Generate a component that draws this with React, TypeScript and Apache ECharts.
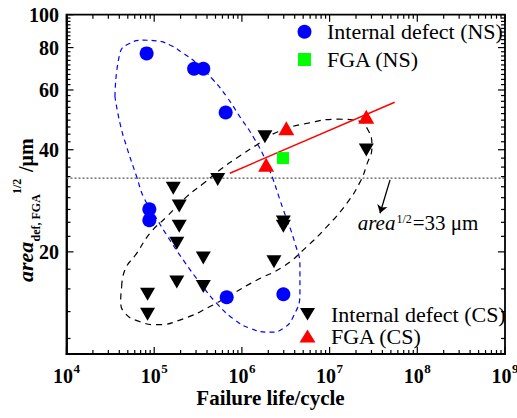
import React, { useEffect, useRef } from 'react';
import * as echarts from 'echarts';

const FONT = "'Liberation Serif', 'Times New Roman', serif";

const X_MIN = 1e4;
const X_MAX = 1e9;
const Y_MIN = 10;
const Y_MAX = 100;

const xTickExponents = [4, 5, 6, 7, 8, 9];
const yTickLabels = [20, 40, 60, 80, 100];
const yMinorPerMajor = 9; // Origin-style minor ticks: major step 20 split into 9

const NS_DEFECT = 'Internal defect (NS)';
const NS_FGA = 'FGA (NS)';
const CS_DEFECT = 'Internal defect (CS)';
const CS_FGA = 'FGA (CS)';

const BLUE = '#0000ff';
const GREEN = '#00ff00';
const RED = '#ff0000';
const BLACK = '#000000';

// [failure life (cycles), sqrt(area) (um)]
const nsDefect = [
  [8.2e4, 76.9], [2.85e5, 69.3], [3.63e5, 69.3], [6.53e5, 51.5],
  [8.8e4, 26.7], [8.8e4, 24.8], [6.71e5, 14.7], [2.97e6, 15.0],
];
const nsFGA = [[2.94e6, 37.8]];
const csDefect = [
  [8.4e4, 15.0], [8.4e4, 13.1], [1.65e5, 30.8], [1.93e5, 27.3], [1.93e5, 23.8],
  [1.81e5, 21.2], [1.81e5, 16.3], [3.63e5, 19.2], [3.63e5, 15.8], [5.3e5, 32.7],
  [1.83e6, 43.7], [2.32e6, 18.7], [2.97e6, 24.5], [2.97e6, 23.8], [2.62e7, 39.9],
];
const csFGA = [[3.21e6, 46.3], [2.62e7, 50.0], [1.89e6, 36.1]];
const fgaFitLine = [[7.3e5, 34.1], [5.52e7, 55.2]];
const thresholdArea = 33;
const arrowFrom = [4.89e7, 32.6];
const arrowTo = [3.76e7, 26.0];

// hand-drawn guide outlines (in data space)
const blueOutline = [
  [3.57e4, 57.3], [4.07e4, 77.1], [5.3e4, 82.4], [7.52e4, 84.1], [1.07e5, 83.7],
  [1.51e5, 81.4], [2.15e5, 76.9], [3.05e5, 71.9], [4.72e5, 64.2], [6.71e5, 57.3],
  [9.51e5, 50.0], [1.35e6, 43.6], [1.92e6, 36.5], [2.97e6, 26.6], [4.03e6, 21.2],
  [4.59e6, 18.1], [4.59e6, 15.1], [3.86e6, 12.9], [2.97e6, 11.9], [2.09e6, 11.6],
  [1.24e6, 11.9], [7.98e5, 12.7], [5.16e5, 14.1], [3.33e5, 16.2], [2.15e5, 18.9],
  [1.39e5, 22.4], [9.78e4, 26.0], [7.52e4, 29.1], [6.31e4, 33.3], [4.85e4, 40.8],
  [4.07e4, 47.9], [3.57e4, 57.3],
];
const blackOutline = [
  [4.26e4, 15.8], [4.64e4, 17.7], [6.31e4, 19.8], [8.96e4, 22.7], [1.39e5, 25.4],
  [2.35e5, 29.1], [3.63e5, 31.8], [5.89e5, 35.2], [8.73e5, 37.8], [1.49e6, 41.4],
  [2.58e6, 45.2], [5.67e6, 47.9], [1.25e7, 49.2], [2.11e7, 48.7], [2.74e7, 45.7],
  [3.04e7, 40.8], [2.65e7, 36.1], [2.22e7, 32.1], [1.57e7, 27.8], [9.27e6, 23.7],
  [5.48e6, 20.7], [2.97e6, 18.1], [1.47e6, 16.5], [7.31e5, 14.9], [4.33e5, 13.8],
  [2.15e5, 12.7], [1.07e5, 12.2], [6.89e4, 12.45], [4.64e4, 13.2], [4.15e4, 14.4],
  [4.26e4, 15.8],
];

const xMajorTicks = xTickExponents.map((e) => Math.pow(10, e));
const xMinorTicks: number[] = [];
for (let i = 0; i < xTickExponents.length - 1; i++) {
  for (let k = 2; k <= 9; k++) xMinorTicks.push(k * Math.pow(10, xTickExponents[i]));
}
const yMajorStep = yTickLabels[1] - yTickLabels[0];
const yMinorTicks: number[] = [];
for (let i = 1; i <= (Y_MAX / yMajorStep) * yMinorPerMajor; i++) {
  const v = (i * yMajorStep) / yMinorPerMajor;
  if (i % yMinorPerMajor !== 0 && v > Y_MIN && v < Y_MAX) yMinorTicks.push(v);
}

const DOWN_TRI = 'path://M0,0L15,0L7.5,13Z';
const UP_TRI = 'path://M7.5,0L15,13L0,13Z';
const SQUARE = 'path://M0,0H10V10H0Z';

function txt(extra: any) {
  const s: any = { fontFamily: FONT, fill: '#000', ...extra };
  if (s.align) s.textAlign = s.align;
  if (s.verticalAlign) s.textVerticalAlign = s.verticalAlign;
  return s;
}

function xTickSeries(values: number[], len: number) {
  return {
    type: 'custom', silent: true, clip: false, z: 6,
    data: values.map((v) => [v, Y_MIN]),
    renderItem: (_p: any, api: any) => {
      const v = api.value(0);
      const b = api.coord([v, Y_MIN]);
      const t = api.coord([v, Y_MAX]);
      return {
        type: 'group',
        children: [
          { type: 'line', shape: { x1: b[0], y1: b[1], x2: b[0], y2: b[1] - len }, style: { stroke: '#000', lineWidth: 1.2 } },
          { type: 'line', shape: { x1: t[0], y1: t[1], x2: t[0], y2: t[1] + len }, style: { stroke: '#000', lineWidth: 1.2 } },
        ],
      };
    },
  };
}

function yTickSeries(values: number[], len: number) {
  return {
    type: 'custom', silent: true, clip: false, z: 6,
    data: values.map((v) => [X_MIN, v]),
    renderItem: (_p: any, api: any) => {
      const v = api.value(1);
      const l = api.coord([X_MIN, v]);
      const r = api.coord([X_MAX, v]);
      return {
        type: 'group',
        children: [
          { type: 'line', shape: { x1: l[0], y1: l[1], x2: l[0] + len, y2: l[1] }, style: { stroke: '#000', lineWidth: 1.2 } },
          { type: 'line', shape: { x1: r[0], y1: r[1], x2: r[0] - len, y2: r[1] }, style: { stroke: '#000', lineWidth: 1.2 } },
        ],
      };
    },
  };
}

export default function App() {
  const ref = useRef<HTMLDivElement>(null);
  useEffect(() => {
    if (!ref.current) return;
    const chart = echarts.init(ref.current, undefined, { renderer: 'svg' });
    const legendText = (text: string, x: number, y: number) => ({
      type: 'text', x: 0, y: 0, z: 20,
      style: txt({ text, x, y, fontSize: 22, align: 'left', verticalAlign: 'middle' }),
    });
    const option: any = {
      animation: false,
      backgroundColor: '#fff',
      grid: {
        left: 66.5, top: 14.7, width: 438.5, height: 339.3,
        show: true, borderColor: '#000', borderWidth: 1.8, backgroundColor: 'transparent',
      },
      xAxis: {
        type: 'log', logBase: 10, min: X_MIN, max: X_MAX,
        axisLine: { show: true, lineStyle: { color: '#000', width: 1.8 } },
        axisTick: { show: false }, axisLabel: { show: false }, splitLine: { show: false },
      },
      yAxis: {
        type: 'log', logBase: 10, min: Y_MIN, max: Y_MAX,
        axisLine: { show: true, lineStyle: { color: '#000', width: 1.8 } },
        axisTick: { show: false }, axisLabel: { show: false }, splitLine: { show: false },
      },
      graphic: [
        // y-axis title
        { type: 'text', x: 25.5, y: 282, rotation: Math.PI / 2, style: txt({ text: 'area', fontSize: 22, fontWeight: 'bold', fontStyle: 'italic', align: 'left', verticalAlign: 'middle' }) },
        { type: 'text', x: 36, y: 241.5, rotation: Math.PI / 2, style: txt({ text: 'def, FGA', fontSize: 12, fontWeight: 'bold', align: 'left', verticalAlign: 'middle' }) },
        { type: 'text', x: 17, y: 194, rotation: Math.PI / 2, style: txt({ text: '1/2', fontSize: 12, fontWeight: 'bold', align: 'left', verticalAlign: 'middle' }) },
        { type: 'text', x: 25.5, y: 172, rotation: Math.PI / 2, style: txt({ text: '/\u03bcm', fontSize: 20, fontWeight: 'bold', align: 'left', verticalAlign: 'middle' }) },
        // x-axis title
        { type: 'text', x: 270.5, y: 398, style: txt({ text: 'Failure life/cycle', fontSize: 21, fontWeight: 'bold', align: 'center', verticalAlign: 'middle' }) },
        // threshold annotation
        { type: 'text', x: 357.7, y: 222.5, style: txt({ text: 'area', fontSize: 21, fontStyle: 'italic', align: 'left', verticalAlign: 'middle' }) },
        { type: 'text', x: 396.5, y: 219, style: txt({ text: '1/2', fontSize: 12, align: 'left', verticalAlign: 'middle' }) },
        { type: 'text', x: 412.7, y: 222.5, style: txt({ text: '=33 \u03bcm', fontSize: 21, align: 'left', verticalAlign: 'middle' }) },
        // legend (NS)
        { type: 'circle', z: 20, shape: { cx: 304.5, cy: 31.7, r: 7 }, style: { fill: BLUE } },
        legendText(NS_DEFECT, 327, 31.7),
        { type: 'rect', z: 20, shape: { x: 298, y: 53, width: 13, height: 13 }, style: { fill: GREEN } },
        legendText(NS_FGA, 327, 59.3),
        // legend (CS)
        { type: 'polygon', z: 20, shape: { points: [[300, 308], [315, 308], [307.5, 320.5]] }, style: { fill: BLACK } },
        legendText(CS_DEFECT, 331, 314),
        { type: 'polygon', z: 20, shape: { points: [[307.5, 329.5], [315.5, 342.5], [299.5, 342.5]] }, style: { fill: RED } },
        legendText(CS_FGA, 331, 336.5),
      ],
      series: [
        {
          name: 'threshold', type: 'line', data: [[X_MIN, thresholdArea], [X_MAX, thresholdArea]],
          symbol: 'none', silent: true, z: 2,
          lineStyle: { color: '#555', width: 1.2, type: [2, 2] },
          markLine: {
            silent: true, symbol: ['none', 'arrow'], symbolSize: 8, label: { show: false },
            lineStyle: { color: '#000', width: 1.3, type: 'solid' },
            data: [[{ coord: arrowFrom }, { coord: arrowTo }]],
          },
        },
        {
          name: 'blueOutline', type: 'line', data: blueOutline, smooth: 0.5, symbol: 'none', silent: true, z: 2,
          lineStyle: { color: BLUE, width: 1.2, type: [5, 4] },
        },
        {
          name: 'blackOutline', type: 'line', data: blackOutline, smooth: 0.5, symbol: 'none', silent: true, z: 2,
          lineStyle: { color: BLACK, width: 1.2, type: [6, 5] },
        },
        {
          name: 'fgaFit', type: 'line', data: fgaFitLine, symbol: 'none', silent: true, z: 3,
          lineStyle: { color: RED, width: 1.4 },
        },
        {
          name: CS_DEFECT, type: 'scatter', data: csDefect, symbol: DOWN_TRI, symbolSize: [15, 13], z: 4,
          itemStyle: { color: BLACK, opacity: 1 },
        },
        {
          name: NS_DEFECT, type: 'scatter', data: nsDefect, symbol: 'circle', symbolSize: 14, z: 4,
          itemStyle: { color: BLUE, opacity: 1 },
        },
        {
          name: NS_FGA, type: 'scatter', data: nsFGA, symbol: SQUARE, symbolSize: 12, z: 4,
          itemStyle: { color: GREEN, opacity: 1 },
        },
        {
          name: CS_FGA, type: 'scatter', data: csFGA, symbol: UP_TRI, symbolSize: [16, 14], z: 4,
          itemStyle: { color: RED, opacity: 1 },
        },
        xTickSeries(xMajorTicks, 7),
        xTickSeries(xMinorTicks, 4),
        yTickSeries(yTickLabels, 7),
        yTickSeries(yMinorTicks, 4),
        {
          type: 'custom', silent: true, clip: false, z: 6,
          data: xTickExponents.map((e) => [Math.pow(10, e), Y_MIN, e]),
          renderItem: (_p: any, api: any) => {
            const p = api.coord([api.value(0), Y_MIN]);
            const e = api.value(2);
            return {
              type: 'group',
              children: [
                { type: 'text', style: txt({ text: '10', x: p[0] + 6.5, y: p[1] + 22.3, fontSize: 20, fontWeight: 'bold', align: 'right', verticalAlign: 'middle' }) },
                { type: 'text', style: txt({ text: String(e), x: p[0] + 7, y: p[1] + 14.5, fontSize: 13, fontWeight: 'bold', align: 'left', verticalAlign: 'middle' }) },
              ],
            };
          },
        },
        {
          type: 'custom', silent: true, clip: false, z: 6,
          data: yTickLabels.map((v) => [X_MIN, v]),
          renderItem: (_p: any, api: any) => {
            const v = api.value(1);
            const p = api.coord([X_MIN, v]);
            return {
              type: 'text',
              style: txt({ text: String(v), x: p[0] - 7.5, y: p[1], fontSize: 20, fontWeight: 'bold', align: 'right', verticalAlign: 'middle' }),
            };
          },
        },
      ],
    };
    chart.setOption(option);
    return () => chart.dispose();
  }, []);
  return (
    <div
      ref={ref}
      style={{ position: 'fixed', left: 0, top: 0, width: 517, height: 418, background: '#fff' }}
    />
  );
}
